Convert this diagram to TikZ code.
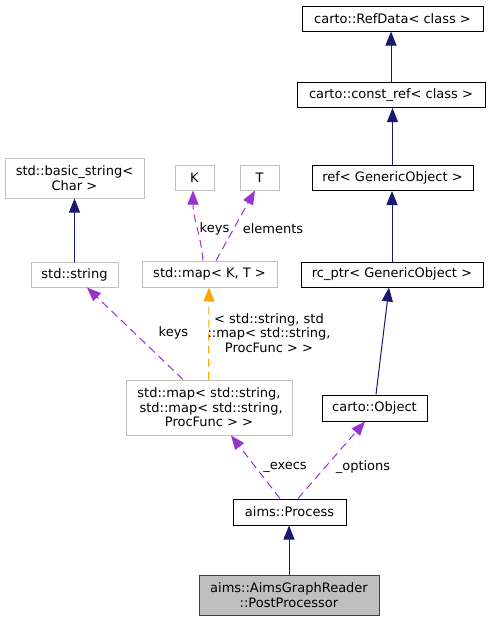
\documentclass[tikz,border=0pt]{standalone}
\usepackage{fontspec}
\setmainfont{DejaVu Sans}
\usetikzlibrary{arrows.meta}
\definecolor{navy}{HTML}{191970}
\definecolor{orchid}{HTML}{9A32CD}
\definecolor{orng}{HTML}{FFA500}
\definecolor{gborder}{HTML}{C0C0C0}
\definecolor{pfill}{HTML}{BFBFBF}
\definecolor{pborder}{HTML}{404040}
\begin{document}
\begin{tikzpicture}[x=1pt,y=-1pt,
  every node/.style={font=\fontsize{13}{14.5}\selectfont, inner sep=0pt, align=center},
  box/.style={draw, line width=1pt, minimum height=25pt},
  blk/.style={box, draw=black},
  gry/.style={box, draw=gborder},
  hl/.style={box, draw=pborder, fill=pfill},
  tip/.style={-{Triangle[length=14pt,width=11pt]}},
  inh/.style={draw=navy, line width=1pt, tip},
  usage/.style={draw=orchid, line width=1pt, dash pattern=on 8pt off 5pt, tip},
  tmpl/.style={draw=orng, line width=1pt, dash pattern=on 8pt off 5pt, tip},
  lbl/.style={fill=none}]
\fill[white] (0,0) rectangle (491,621);
\useasboundingbox (0,0) rectangle (491,621);

% nodes
\node[blk, minimum width=181pt] (refdata) at (392.5,18.5) {carto::RefData< class >};
\node[blk, minimum width=188pt] (constref) at (391,95) {carto::const\_ref< class >};
\node[blk, minimum width=161pt] (ref) at (392.5,178) {ref< GenericObject >};
\node[blk, minimum width=182pt] (rcptr) at (392,274.5) {rc\_ptr< GenericObject >};
\node[blk, minimum width=105pt, minimum height=26pt] (object) at (374.5,408) {carto::Object};
\node[gry, minimum width=139pt, minimum height=40pt] (basicstring) at (74.5,178) {std::basic\_string<\\Char >};
\node[gry, minimum width=39pt] (K) at (194.5,177.5) {K};
\node[gry, minimum width=39pt] (T) at (259.5,177.5) {T};
\node[gry, minimum width=87pt] (string) at (74.5,274.5) {std::string};
\node[gry, minimum width=135pt, minimum height=26pt] (mapKT) at (209.5,274) {std::map< K, T >};
\node[gry, minimum width=166pt, minimum height=55pt] (bigmap) at (209,407.5) {std::map< std::string,\\\hspace*{0.32em}std::map< std::string,\\ProcFunc > >};
\node[blk, minimum width=113pt, minimum height=26pt] (process) at (289.5,512) {aims::Process};
\node[hl, minimum width=180pt, minimum height=40pt] (post) at (289,595) {aims::AimsGraphReader\\::PostProcessor};

% inheritance
\draw[inh] (constref.north) -- (constref.north |- refdata.south);
\draw[inh] (ref.north) -- (ref.north |- constref.south);
\draw[inh] (rcptr.north) -- (rcptr.north |- ref.south);
\draw[inh] ([xshift=1.5pt]object.north) -- ([xshift=-3pt]rcptr.south);
\draw[inh] (string.north) -- (basicstring.south);
\draw[inh] (post.north) -- (post.north |- process.south);

% usage
\draw[usage] ([xshift=-6.5pt]mapKT.north) .. controls +(-2,-25) and +(0,28) .. ([xshift=-1.5pt]K.south);
\draw[usage] ([xshift=6.5pt]mapKT.north) -- ([xshift=-4.5pt]T.south);
\draw[tmpl] ([xshift=-0.5pt]bigmap.north) -- ([xshift=-0.5pt]mapKT.south);
\draw[usage] ([xshift=-26pt]bigmap.north) -- ([xshift=12.5pt]string.south);
\draw[usage] ([xshift=-9.5pt]process.north) -- ([xshift=22pt]bigmap.south);
\draw[usage] ([xshift=8.5pt]process.north) -- ([xshift=-9.5pt]object.south);

% labels
\node[lbl] (lkeys1) at (214.5,229) {keys};
\node[lbl] (lelem) at (273,229) {elements};
\node[lbl] (ltmpl) at (269,333) {< std::string, std\\::map< std::string,\\ProcFunc > >};
\node[lbl] (lkeys2) at (173.5,333) {keys};
\node[lbl] (lexecs) at (285,467) {\_execs};
\node[lbl] (lopts) at (363,467) {\_options};
\end{tikzpicture}
\end{document}
